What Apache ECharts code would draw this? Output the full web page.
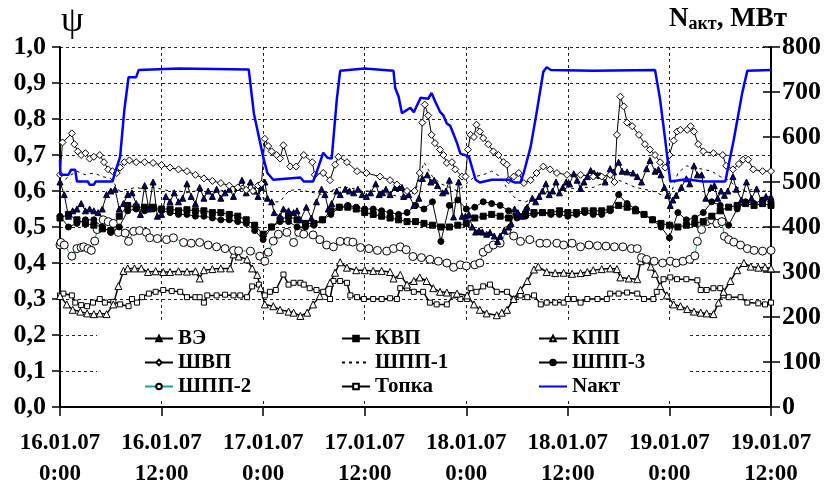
<!DOCTYPE html>
<html>
<head>
<meta charset="utf-8">
<script src="https://cdn.jsdelivr.net/npm/echarts@6/dist/echarts.min.js"></script>
<style>
html,body{margin:0;padding:0;background:#fff;}
#chart{width:832px;height:490px;}
</style>
</head>
<body>
<div id="chart"></div>
<script>
// Time axis: hours counted from 16.01.07 0:00, ticks every 12 hours
const timeTicks = ['16.01.07\n0:00','16.01.07\n12:00','17.01.07\n0:00','17.01.07\n12:00',
                   '18.01.07\n0:00','18.01.07\n12:00','19.01.07\n0:00','19.01.07\n12:00'];

// ВЭ, [hour, ψ]
const veData = [[0,0.625],[0.5,0.59],[1,0.53],[1.5,0.545],[2,0.55],[2.5,0.565],[3,0.545],[3.5,0.55],[4,0.545],[4.5,0.54],[5,0.55],[5.5,0.59],[6,0.60],[6.5,0.605],[7,0.55],[7.5,0.565],[8,0.59],[8.5,0.595],[9,0.565],[9.5,0.535],[10,0.615],[10.5,0.55],[11,0.625],[11.5,0.53],[12,0.535],[12.5,0.585],[13,0.57],[13.5,0.595],[14,0.57],[14.5,0.58],[15,0.62],[15.5,0.585],[16,0.565],[16.5,0.61],[17,0.58],[17.5,0.60],[18,0.585],[18.5,0.605],[19,0.58],[19.5,0.595],[20,0.605],[20.5,0.585],[21,0.61],[21.5,0.63],[22,0.595],[22.5,0.625],[23,0.60],[23.4,0.585],[23.8,0.61],[24.2,0.625],[24.5,0.58],[25,0.57],[25.3,0.54],[26,0.53],[26.4,0.55],[27,0.545],[27.6,0.54],[28,0.545],[28.4,0.52],[29.1,0.555],[29.7,0.525],[30.3,0.57],[30.9,0.605],[31.3,0.59],[31.7,0.55],[32.1,0.565],[32.7,0.60],[33.1,0.59],[33.7,0.605],[34.2,0.60],[34.7,0.595],[35.2,0.605],[35.7,0.59],[36.2,0.585],[36.7,0.595],[37.3,0.62],[37.7,0.59],[38.1,0.595],[38.5,0.605],[39,0.59],[39.6,0.61],[40,0.61],[40.4,0.61],[40.6,0.585],[41.2,0.59],[41.8,0.56],[42.4,0.58],[42.8,0.635],[43.4,0.645],[43.8,0.625],[44.2,0.63],[44.6,0.615],[45.2,0.595],[45.6,0.60],[46,0.63],[46.5,0.528],[47.1,0.625],[47.5,0.53],[47.9,0.53],[48.3,0.535],[48.7,0.50],[49.1,0.486],[49.5,0.49],[49.9,0.486],[50.4,0.48],[50.8,0.485],[51.3,0.475],[51.7,0.46],[52,0.475],[52.5,0.49],[53,0.50],[53.3,0.51],[53.7,0.55],[54.1,0.54],[54.5,0.53],[55,0.55],[55.2,0.555],[55.8,0.58],[56.2,0.57],[56.6,0.585],[57,0.60],[57.4,0.62],[57.8,0.59],[58.2,0.60],[58.6,0.625],[59,0.595],[59.4,0.61],[59.8,0.625],[60.2,0.62],[60.7,0.648],[61.1,0.63],[61.5,0.607],[61.9,0.625],[62.3,0.64],[62.7,0.657],[63.1,0.65],[63.5,0.645],[63.8,0.643],[64.4,0.625],[65,0.662],[65.4,0.653],[66,0.68],[66.4,0.655],[67,0.653],[67.7,0.65],[68.2,0.64],[68.7,0.625],[69.3,0.662],[69.7,0.685],[70.3,0.655],[70.7,0.66],[71,0.645],[71.4,0.61],[71.8,0.588],[72.1,0.56],[72.4,0.575],[72.8,0.588],[73.4,0.61],[74,0.634],[74.4,0.62],[74.9,0.67],[75.3,0.645],[75.8,0.645],[76.3,0.58],[76.9,0.61],[77.3,0.615],[77.7,0.58],[78.1,0.60],[78.5,0.588],[78.9,0.60],[79.5,0.64],[79.9,0.605],[80.5,0.575],[81.1,0.625],[81.7,0.58],[82.3,0.606],[82.9,0.57],[83.4,0.585],[84,0.583]];

// КВП, hourly ψ
const kvpHourly = [0.525,0.535,0.52,0.51,0.505,0.495,0.49,0.53,0.56,0.555,0.555,0.555,0.55,0.55,0.545,0.548,0.545,0.545,0.54,0.54,0.535,0.53,0.52,0.505,0.48,0.50,0.52,0.53,0.52,0.51,0.51,0.52,0.545,0.555,0.555,0.55,0.54,0.535,0.53,0.525,0.52,0.515,0.515,0.51,0.505,0.50,0.50,0.505,0.51,0.525,0.53,0.535,0.53,0.525,0.53,0.535,0.54,0.54,0.54,0.545,0.54,0.54,0.545,0.545,0.545,0.55,0.56,0.555,0.545,0.535,0.52,0.51,0.505,0.50,0.505,0.51,0.515,0.53,0.545,0.555,0.56,0.565,0.56,0.565,0.56];

// КПП, [hour, ψ]
const kppData = [[0,0.308],[0.8,0.285],[1.5,0.27],[2.4,0.265],[3.2,0.26],[4,0.258],[4.7,0.26],[5.5,0.258],[6.3,0.285],[6.9,0.336],[7.5,0.378],[8,0.385],[8.8,0.385],[9.6,0.385],[10.4,0.375],[11.3,0.377],[12.2,0.375],[13,0.375],[14,0.377],[15,0.376],[16,0.377],[16.5,0.357],[17,0.38],[18,0.383],[19,0.385],[20.1,0.385],[20.5,0.424],[21.1,0.418],[22.1,0.41],[22.7,0.385],[23.3,0.367],[23.7,0.33],[24.2,0.285],[25.2,0.28],[26,0.27],[27,0.265],[27.6,0.262],[28.4,0.253],[29.2,0.262],[29.9,0.285],[30.7,0.308],[31.9,0.345],[32.5,0.373],[33.1,0.402],[33.9,0.387],[35,0.38],[36,0.38],[37,0.378],[38,0.378],[39,0.375],[39.4,0.357],[40.2,0.367],[41,0.34],[41.8,0.35],[42.5,0.36],[43.3,0.35],[44.1,0.33],[44.9,0.32],[45.7,0.318],[46.9,0.315],[48.1,0.31],[48.9,0.285],[49.6,0.27],[50.4,0.26],[51.6,0.255],[52.2,0.262],[52.8,0.27],[53.6,0.30],[54.4,0.325],[55.2,0.35],[56,0.382],[56.5,0.39],[57.5,0.375],[58.5,0.372],[59.5,0.373],[60.5,0.37],[61.5,0.372],[62.3,0.375],[63,0.38],[64,0.383],[65,0.385],[65.8,0.383],[66.2,0.36],[67.2,0.357],[68.2,0.355],[68.6,0.405],[69.2,0.41],[69.8,0.39],[70.3,0.37],[70.9,0.336],[71.7,0.31],[72.5,0.285],[73.3,0.28],[74.1,0.272],[74.9,0.265],[75.7,0.262],[76.4,0.26],[77.2,0.258],[77.8,0.29],[78.4,0.32],[79.2,0.35],[80,0.38],[80.8,0.40],[81.6,0.39],[82.5,0.387],[83.3,0.388],[84,0.385]];

// ШВП, [hour, ψ]
const shvpData = [[0,0.645],[0.3,0.735],[1.4,0.76],[1.7,0.73],[2.1,0.71],[2.5,0.70],[3,0.705],[3.5,0.69],[4,0.695],[4.7,0.70],[5.2,0.68],[5.7,0.66],[6.2,0.655],[6.7,0.65],[7.1,0.665],[7.6,0.68],[8.2,0.685],[9,0.68],[10,0.68],[11,0.678],[12,0.672],[13,0.665],[14,0.66],[15,0.655],[16,0.645],[17,0.635],[18,0.628],[19,0.622],[20,0.615],[21,0.61],[22,0.603],[22.8,0.60],[23.4,0.615],[23.8,0.62],[24.2,0.745],[24.6,0.725],[25,0.71],[25.6,0.70],[26,0.69],[26.4,0.727],[27.2,0.668],[27.9,0.668],[28.8,0.70],[29.8,0.68],[30.1,0.645],[31.1,0.65],[31.9,0.63],[32.5,0.673],[32.9,0.695],[33.9,0.68],[35.1,0.655],[36.2,0.65],[37.8,0.64],[39,0.63],[39.8,0.618],[41,0.60],[41.9,0.60],[42.5,0.65],[42.8,0.79],[43.1,0.84],[43.5,0.81],[43.9,0.756],[44.3,0.733],[44.9,0.715],[45.3,0.70],[45.7,0.678],[46.3,0.68],[46.7,0.66],[47.5,0.64],[47.9,0.64],[48.2,0.715],[48.5,0.756],[48.9,0.75],[49.2,0.784],[49.6,0.765],[50,0.747],[50.6,0.73],[51.2,0.71],[51.8,0.70],[52.4,0.68],[52.8,0.673],[53,0.63],[53.6,0.64],[54.2,0.65],[54.8,0.622],[55.6,0.63],[56.3,0.65],[57.1,0.668],[57.9,0.66],[58.7,0.65],[59.9,0.645],[61.5,0.645],[63,0.64],[64,0.64],[65,0.645],[65.5,0.625],[65.8,0.756],[66.2,0.862],[66.6,0.835],[67,0.79],[67.6,0.78],[68.4,0.756],[69.1,0.73],[69.7,0.715],[70.3,0.70],[70.9,0.68],[71.5,0.665],[72,0.70],[72.5,0.74],[72.9,0.765],[73.3,0.77],[74.1,0.77],[74.5,0.78],[74.9,0.765],[75.4,0.73],[76,0.71],[77.2,0.705],[78.3,0.70],[78.7,0.67],[79.5,0.66],[80.2,0.675],[80.7,0.687],[81.3,0.687],[81.9,0.66],[83,0.655],[84,0.655]];

// ШПП-1, hourly ψ
const shpp1Hourly = [0.62,0.64,0.655,0.645,0.65,0.64,0.635,0.60,0.605,0.61,0.605,0.61,0.605,0.60,0.60,0.595,0.60,0.60,0.595,0.60,0.605,0.61,0.62,0.61,0.58,0.57,0.57,0.60,0.605,0.60,0.595,0.59,0.60,0.61,0.61,0.605,0.60,0.60,0.595,0.59,0.585,0.58,0.60,0.68,0.64,0.62,0.61,0.60,0.62,0.64,0.645,0.655,0.64,0.60,0.575,0.57,0.58,0.59,0.60,0.60,0.61,0.605,0.61,0.61,0.62,0.625,0.63,0.62,0.61,0.605,0.60,0.59,0.58,0.65,0.67,0.665,0.66,0.655,0.64,0.63,0.61,0.60,0.605,0.60,0.60];

// ШПП-3, hourly ψ
const shpp3Hourly = [0.53,0.50,0.51,0.52,0.52,0.50,0.485,0.50,0.545,0.55,0.545,0.55,0.545,0.54,0.535,0.535,0.53,0.53,0.525,0.52,0.52,0.515,0.51,0.49,0.465,0.50,0.515,0.515,0.50,0.50,0.505,0.52,0.535,0.555,0.56,0.555,0.55,0.55,0.545,0.54,0.535,0.54,0.56,0.55,0.57,0.46,0.56,0.575,0.55,0.555,0.57,0.565,0.56,0.545,0.525,0.53,0.535,0.54,0.535,0.535,0.53,0.535,0.54,0.535,0.535,0.545,0.59,0.565,0.55,0.535,0.52,0.50,0.47,0.54,0.52,0.525,0.54,0.57,0.56,0.505,0.55,0.57,0.565,0.575,0.57];

// ШПП-2, [hour, ψ]
const shpp2Data = [[0,0.45],[0.1,0.457],[0.5,0.45],[1.4,0.419],[2,0.44],[2.5,0.443],[2.8,0.445],[3.3,0.44],[3.7,0.435],[4.1,0.461],[4.4,0.493],[5.1,0.52],[5.7,0.515],[6.3,0.51],[6.9,0.485],[7.7,0.483],[8.1,0.46],[8.7,0.488],[9.4,0.49],[10.2,0.485],[10.6,0.47],[11.5,0.468],[12.6,0.465],[13.4,0.47],[14.6,0.457],[15.5,0.455],[16.5,0.457],[17.5,0.45],[18.5,0.445],[19.5,0.44],[20.5,0.435],[21.1,0.434],[22.5,0.433],[23.6,0.419],[24.2,0.405],[24.6,0.43],[25.2,0.461],[25.8,0.48],[26.8,0.485],[27.6,0.457],[28.2,0.485],[28.8,0.48],[29.9,0.478],[30.7,0.465],[31.5,0.45],[32.3,0.445],[33.1,0.46],[34,0.46],[34.6,0.458],[35.5,0.443],[36.5,0.44],[37.5,0.435],[38.6,0.433],[39.4,0.44],[40.2,0.445],[40.9,0.437],[41.7,0.418],[42.7,0.415],[43.7,0.41],[44.7,0.405],[45.7,0.40],[46.5,0.388],[47.3,0.395],[48,0.392],[49,0.395],[49.6,0.40],[50,0.43],[50.6,0.44],[51.2,0.45],[52,0.455],[52.8,0.49],[53.6,0.475],[54.4,0.46],[55.5,0.465],[56.7,0.455],[57.5,0.455],[58.7,0.455],[59.5,0.45],[60.5,0.455],[61.5,0.445],[62.5,0.45],[63.5,0.448],[64.5,0.447],[65.5,0.445],[66.5,0.445],[67.5,0.44],[68.2,0.44],[68.7,0.415],[69.3,0.41],[70.2,0.405],[71.2,0.40],[72.1,0.405],[72.8,0.40],[73.6,0.405],[74.4,0.41],[75,0.42],[75.3,0.46],[75.8,0.493],[76.4,0.515],[77,0.52],[77.6,0.51],[78.2,0.515],[78.5,0.474],[79,0.465],[79.6,0.458],[80.4,0.45],[81.2,0.44],[82,0.435],[83,0.433],[84,0.435]];

// Топка, [hour, ψ]
const topkaData = [[0,0.31],[0.4,0.315],[1.4,0.31],[1.8,0.29],[2.5,0.283],[3.2,0.28],[3.9,0.29],[4.7,0.30],[5.3,0.29],[6.3,0.292],[7.1,0.285],[8.1,0.28],[8.5,0.30],[9.1,0.29],[9.7,0.305],[10.5,0.315],[11.3,0.32],[12.2,0.325],[13.2,0.322],[14.2,0.32],[15,0.305],[16,0.305],[16.5,0.305],[17,0.29],[17.4,0.31],[18.5,0.31],[19.5,0.312],[20.5,0.31],[21.3,0.31],[22.1,0.305],[22.7,0.335],[23.5,0.34],[24.2,0.31],[24.8,0.32],[25.5,0.325],[26.4,0.368],[27,0.34],[27.6,0.345],[28.4,0.345],[28.8,0.34],[29.5,0.33],[30.3,0.325],[31.1,0.32],[31.9,0.30],[32.3,0.35],[33.1,0.35],[33.9,0.345],[34.3,0.31],[35.1,0.305],[35.9,0.30],[37,0.30],[38,0.30],[39,0.302],[39.8,0.30],[40.2,0.33],[41,0.33],[41.8,0.32],[42.9,0.32],[43.7,0.29],[44.5,0.285],[45.7,0.285],[46.5,0.31],[47.3,0.30],[48.1,0.30],[48.5,0.33],[49.2,0.32],[50,0.335],[50.8,0.34],[51.6,0.32],[52.8,0.32],[53.6,0.30],[54.4,0.31],[55.2,0.305],[56,0.31],[56.8,0.285],[57.5,0.29],[58.5,0.29],[59.5,0.29],[60,0.30],[60.7,0.30],[61.5,0.29],[62.3,0.30],[63.5,0.30],[64.6,0.30],[65,0.315],[66,0.315],[67,0.318],[68.2,0.315],[69,0.30],[70.1,0.30],[70.5,0.32],[71.3,0.355],[72.1,0.36],[72.9,0.355],[74,0.355],[75.3,0.352],[75.7,0.325],[76.4,0.325],[77.2,0.33],[78,0.33],[78.4,0.31],[79,0.305],[80.4,0.305],[81.2,0.29],[82.5,0.288],[83.3,0.285],[84,0.29]];

// Nакт, [hour, MW]
const nactData = [[0,550],[0.05,516],[1,516],[1.3,527],[1.8,527],[2,501],[3.3,501],[3.5,494],[4,494],[4.2,501],[6.2,501],[6.5,521],[7.1,556],[7.6,660],[8.1,733],[9,733],[9.3,749],[14,752],[22.3,750],[22.9,653],[24,556],[24.5,520],[25.2,505],[28.4,510],[28.8,501],[29.9,501],[30.3,521],[31.1,565],[31.6,554],[32.1,552],[32.7,683],[33.1,747],[36,752],[39.4,747],[39.6,709],[40,690],[40.4,653],[41.4,665],[41.8,655],[42.6,687],[43.5,685],[43.9,698],[44.3,680],[44.9,656],[45.3,648],[45.7,630],[46.1,625],[46.9,587],[47.3,563],[48.3,557],[49.1,505],[49.6,499],[51,505],[53,505],[53.7,499],[54.4,499],[54.8,521],[55.6,578],[56.3,653],[57.1,745],[57.5,755],[58,749],[63,747],[70.3,749],[70.9,683],[71.5,594],[72.1,501],[74,506],[76,501],[78.6,501],[79.6,594],[80.6,698],[81.2,747],[84,749]];

const hourly = arr => arr.map((v, i) => [i, v]);
const FONT = '"Liberation Serif", "Times New Roman", serif';

function marked(name, data, symbol, size, fill, lineColor, lineWidth) {
  return {
    name, type: 'line', data, symbol, symbolSize: size, showAllSymbol: true,
    yAxisIndex: 0, z: 3,
    lineStyle: { color: lineColor, width: lineWidth },
    itemStyle: { color: fill, borderColor: '#000', borderWidth: 1 }
  };
}

const series = [
  marked('Топка', topkaData, 'rect', 5, '#fff', '#000', 1.5),
  marked('КПП', kppData, 'triangle', 7, '#fff', '#000', 1.5),
  marked('ШПП-2', shpp2Data, 'circle', 8, '#fff', '#1f9e9e', 1),
  marked('КВП', hourly(kvpHourly), 'rect', 6, '#000', '#000', 1),
  marked('ШПП-3', hourly(shpp3Hourly), 'circle', 6, '#000', '#000', 1),
  {
    name: 'ШПП-1', type: 'line', data: hourly(shpp1Hourly), symbol: 'none', z: 3,
    lineStyle: { color: '#000', width: 1, type: [3, 4] }, itemStyle: { color: '#000' }
  },
  marked('ВЭ', veData, 'triangle', 6, '#000080', '#000', 1),
  marked('ШВП', shvpData, 'diamond', 7, '#fff', '#000', 1),
  {
    name: 'Nакт', type: 'line', data: nactData, symbol: 'none', yAxisIndex: 1, z: 4,
    lineStyle: { color: '#0000ff', width: 2.5 }, itemStyle: { color: '#0000ff' }
  }
];

const legendText = { fontFamily: FONT, fontWeight: 'bold', fontSize: 21, color: '#000' };
const lineOnly = name => ({ name, itemStyle: { opacity: 0 } });
function legendColumn(names, left) {
  return {
    data: names, orient: 'vertical', left, top: 323, itemGap: 3,
    itemWidth: 28, itemHeight: 7, textStyle: legendText, selectedMode: false
  };
}

const chart = echarts.init(document.getElementById('chart'), null, { renderer: 'canvas' });
chart.setOption({
  animation: false,
  backgroundColor: '#fff',
  grid: { left: 60, right: 61, top: 47, bottom: 82 },
  legend: [
    legendColumn(['ВЭ', 'ШВП', 'ШПП-2'], 139),
    legendColumn(['КВП', lineOnly('ШПП-1'), 'Топка'], 336),
    legendColumn(['КПП', 'ШПП-3', lineOnly('Nакт')], 533)
  ],
  xAxis: {
    type: 'value', min: 0, max: 84, interval: 12,
    axisLine: { lineStyle: { color: '#000', width: 2 } },
    axisTick: { length: 9, lineStyle: { color: '#000', width: 1.5 } },
    axisLabel: {
      margin: 21, lineHeight: 31, fontFamily: FONT, fontWeight: 'bold', fontSize: 23, color: '#000',
      formatter: v => timeTicks[Math.round(v / 12)]
    },
    splitLine: { show: true, lineStyle: { color: '#222', width: 1, type: [3, 3] } }
  },
  yAxis: [
    {
      type: 'value', position: 'left', min: 0, max: 1, interval: 0.1,
      axisLine: { show: true, lineStyle: { color: '#000', width: 2 } },
      axisTick: { show: true, length: 8, lineStyle: { color: '#000', width: 1.5 } },
      axisLabel: {
        margin: 14, fontFamily: FONT, fontWeight: 'bold', fontSize: 26, color: '#000',
        formatter: v => v.toFixed(1).replace('.', ',')
      },
      splitLine: { show: true, lineStyle: { color: '#222', width: 1, type: [3, 3] } }
    },
    {
      type: 'value', position: 'right', min: 0, max: 800, interval: 100,
      axisLine: { show: true, lineStyle: { color: '#000', width: 2 } },
      axisTick: { show: true, length: 9, lineStyle: { color: '#000', width: 1.5 } },
      axisLabel: { margin: 11, fontFamily: FONT, fontWeight: 'bold', fontSize: 26, color: '#000' },
      splitLine: { show: false }
    },
    {
      type: 'value', position: 'right', min: 0, max: 800, interval: 100,
      axisLine: { show: false },
      axisTick: { show: true, inside: true, length: 8, lineStyle: { color: '#000', width: 1.5 } },
      axisLabel: { show: false },
      splitLine: { show: false }
    }
  ],
  graphic: [
    { type: 'rect', z: 1, shape: { x: 97, y: 321, width: 593, height: 77 }, style: { fill: '#fff' } },
    { type: 'text', left: 61, top: 4, z: 10,
      style: { text: 'ψ', font: '36px ' + FONT, fill: '#000' } },
    { type: 'text', left: 669, top: 6, z: 10,
      style: {
        text: '{n|N}{s|акт}{n|, МВт}',
        rich: {
          n: { fontFamily: FONT, fontWeight: 'bold', fontSize: 27, fill: '#000', verticalAlign: 'bottom', lineHeight: 30 },
          s: { fontFamily: FONT, fontWeight: 'bold', fontSize: 18, fill: '#000', verticalAlign: 'bottom', lineHeight: 24 }
        }
      } }
  ],
  series
});
</script>
</body>
</html>
